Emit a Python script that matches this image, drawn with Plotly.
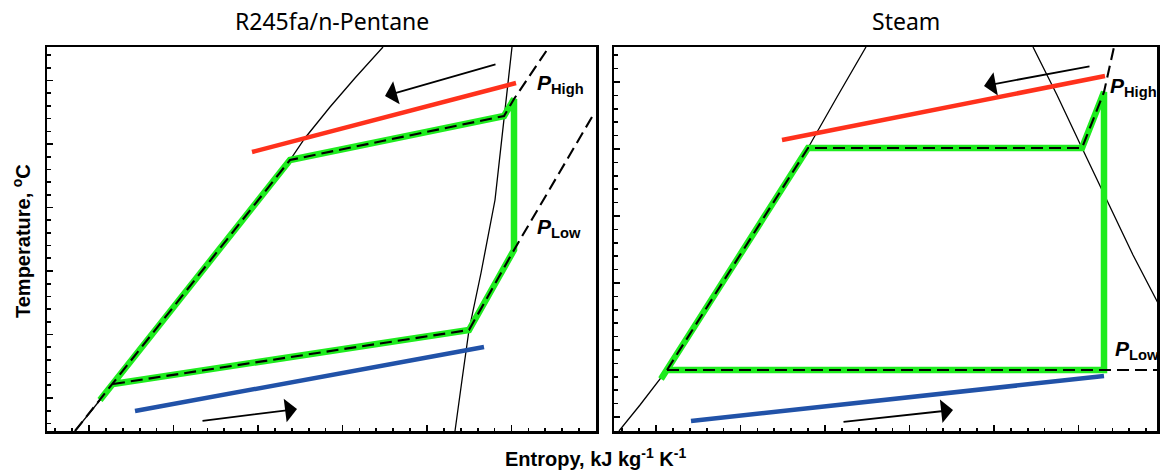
import plotly.graph_objects as go

# ---------------- data (entropy s, temperature T; arbitrary chart units) ----------------
# Left panel: R245fa/n-Pentane
orc_liq_s = [0.056, 0.132, 0.306, 0.486, 0.516, 0.566, 0.616, 0.672]
orc_liq_T = [0, 23.5, 78, 135.5, 146.5, 162, 176.5, 192]
orc_vap_s = [0.930, 0.914, 0.896, 0.868, 0.844, 0.830, 0.816]
orc_vap_T = [192, 157.5, 115.5, 79, 50.5, 25.5, 0]
orc_cycle_s = [0.106, 0.486, 0.914, 0.934, 0.934, 0.844, 0.132]
orc_cycle_T = [15.5, 135.5, 157.5, 166, 90.5, 50.5, 23.5]
orc_phigh_s = [0.056, 0.486, 0.914, 0.934, 1.004]
orc_phigh_T = [0, 135.5, 157.5, 166, 192]
orc_plow_s = [0.132, 0.844, 0.934, 1.09]
orc_plow_T = [23.5, 50.5, 90.5, 157]
orc_hot_s = [0.41, 0.938]
orc_hot_T = [139.5, 174]
orc_cold_s = [0.176, 0.874]
orc_cold_T = [10, 42]
orc_arrow_hot = [(0.9, 183.5), (0.676, 167.5)]     # (tail, head)
orc_arrow_cold = [(0.308, 5), (0.5, 11)]

# Right panel: Steam
stm_liq_s = [0.01, 0.052, 0.106, 0.246, 0.388, 0.446, 0.504]
stm_liq_T = [0, 13, 30.5, 85.5, 141.5, 167, 192]
stm_vap_s = [0.838, 0.886, 0.936, 0.988, 1.038, 1.088]
stm_vap_T = [192, 168, 141.5, 114, 88, 64]
stm_cycle_s = [0.094, 0.388, 0.936, 0.98, 0.98, 0.106]
stm_cycle_T = [26, 141.5, 141.5, 169.5, 30.5, 30.5]
stm_phigh_s = [0.106, 0.388, 0.936, 0.98, 1.0]
stm_phigh_T = [30.5, 141.5, 141.5, 169.5, 192]
stm_plow_s = [0.106, 1.086]
stm_plow_T = [30.5, 30.5]
stm_hot_s = [0.336, 0.982]
stm_hot_T = [145.5, 177.5]
stm_cold_s = [0.154, 0.98]
stm_cold_T = [5, 27.5]
stm_arrow_hot = [(0.954, 182.5), (0.74, 172.5)]
stm_arrow_cold = [(0.456, 4.5), (0.678, 10.5)]

panel_titles = ["R245fa/n-Pentane", "Steam"]
x_title = "Entropy, kJ kg<sup>-1</sup> K<sup>-1</sup>"
y_title = "Temperature, <sup>o</sup>C"

# ---------------- styles ----------------
GREEN = "#1eec1e"
RED = "#ff311c"
BLUE = "#2152a8"
W, H = 1160, 472
L_PX = (47, 596)
R_PX = (614, 1157)
TOP_PX, BOT_PX = 47, 431

fig = go.Figure()


def add_panel(xa, ya, liq, vap, cyc, ph, pl, hot, cold):
    kw = dict(xaxis=xa, yaxis=ya, mode="lines", showlegend=False, hoverinfo="skip")
    fig.add_trace(go.Scatter(x=liq[0], y=liq[1], line=dict(color="black", width=1.3), **kw))
    fig.add_trace(go.Scatter(x=vap[0], y=vap[1], line=dict(color="black", width=1.3), **kw))
    fig.add_trace(go.Scatter(x=hot[0], y=hot[1], line=dict(color=RED, width=4.5), **kw))
    fig.add_trace(go.Scatter(x=cold[0], y=cold[1], line=dict(color=BLUE, width=4.5), **kw))
    fig.add_trace(go.Scatter(x=cyc[0], y=cyc[1], line=dict(color=GREEN, width=6.5), **kw))
    fig.add_trace(go.Scatter(x=ph[0], y=ph[1], line=dict(color="black", width=2.1, dash="12px,6px"), **kw))
    fig.add_trace(go.Scatter(x=pl[0], y=pl[1], line=dict(color="black", width=2.1, dash="12px,6px"), **kw))


add_panel("x", "y", (orc_liq_s, orc_liq_T), (orc_vap_s, orc_vap_T), (orc_cycle_s, orc_cycle_T),
          (orc_phigh_s, orc_phigh_T), (orc_plow_s, orc_plow_T), (orc_hot_s, orc_hot_T),
          (orc_cold_s, orc_cold_T))
add_panel("x2", "y2", (stm_liq_s, stm_liq_T), (stm_vap_s, stm_vap_T), (stm_cycle_s, stm_cycle_T),
          (stm_phigh_s, stm_phigh_T), (stm_plow_s, stm_plow_T), (stm_hot_s, stm_hot_T),
          (stm_cold_s, stm_cold_T))

annotations = []


def arrow(xr, yr, tail, head):
    annotations.append(dict(xref=xr, yref=yr, axref=xr, ayref=yr, x=head[0], y=head[1],
                            ax=tail[0], ay=tail[1], showarrow=True, arrowhead=1,
                            arrowsize=2.2, arrowwidth=1.8, arrowcolor="black", text="",
                            standoff=0, startstandoff=0))


arrow("x", "y", *orc_arrow_hot)
arrow("x", "y", *orc_arrow_cold)
arrow("x2", "y2", *stm_arrow_hot)
arrow("x2", "y2", *stm_arrow_cold)

lab_font = dict(family="Liberation Sans, Arial", size=21, color="black")


def plabel(xr, yr, x, y, sub):
    annotations.append(dict(xref=xr, yref=yr, x=x, y=y, xanchor="left", yanchor="middle",
                            showarrow=False, font=lab_font,
                            text=f"<b><i>P</i></b><sub><b>{sub}</b></sub>"))


plabel("x", "y", 0.976, 173.5, "High")
plabel("x", "y", 0.976, 101.5, "Low")
plabel("x2", "y2", 0.988, 172, "High")
plabel("x2", "y2", 0.998, 40.5, "Low")

title_font = dict(family="Noto Sans", size=23, color="black")
annotations.append(dict(xref="paper", yref="paper", x=332 / W, y=1 - 21 / H, xanchor="center",
                        yanchor="middle", showarrow=False, text=panel_titles[0], font=title_font))
annotations.append(dict(xref="paper", yref="paper", x=906 / W, y=1 - 21 / H, xanchor="center",
                        yanchor="middle", showarrow=False, text=panel_titles[1], font=title_font))

axis_font = dict(family="Liberation Sans, Arial", size=20, color="black")
annotations.append(dict(xref="paper", yref="paper", x=595 / W, y=1 - 457 / H, xanchor="center",
                        yanchor="middle", showarrow=False, text=f"<b>{x_title}</b>", font=axis_font))
annotations.append(dict(xref="paper", yref="paper", x=21 / W, y=1 - 241 / H, xanchor="center",
                        yanchor="middle", showarrow=False, text=f"<b>{y_title}</b>", font=axis_font,
                        textangle=-90))


def xaxis(dom, rng):
    return dict(domain=[dom[0] / W, dom[1] / W], range=rng, showgrid=False, zeroline=False,
                showline=True, linecolor="black", linewidth=2.5, mirror=True,
                ticks="inside", ticklen=6, tickwidth=1.6, tickcolor="black",
                tick0=0.084, dtick=0.169, showticklabels=False,
                minor=dict(ticks="inside", ticklen=3.5, tickwidth=1.6, tickcolor="black",
                           tick0=0.084, dtick=0.0338))


def yaxis(anchor, t0, dt):
    return dict(domain=[1 - BOT_PX / H, 1 - TOP_PX / H], range=[0, 192], anchor=anchor,
                showgrid=False, zeroline=False, showline=True, linecolor="black",
                linewidth=2.5, mirror=True, ticks="inside", ticklen=6, tickwidth=1.6,
                tickcolor="black", tick0=t0, dtick=dt, showticklabels=False,
                minor=dict(ticks="inside", ticklen=3.5, tickwidth=1.6, tickcolor="black",
                           tick0=t0, dtick=dt / 5))


xa1 = xaxis(L_PX, [0, (L_PX[1] - L_PX[0]) / 500])
xa1["anchor"] = "y"
xa2 = xaxis(R_PX, [0, (R_PX[1] - R_PX[0]) / 500])
xa2["anchor"] = "y2"

fig.update_layout(
    width=W, height=H, margin=dict(l=0, r=0, t=0, b=0),
    paper_bgcolor="white", plot_bgcolor="white",
    xaxis=xa1, yaxis=yaxis("x", 16.5, 31.75),
    xaxis2=xa2, yaxis2=yaxis("x2", 7, 33.5),
    annotations=annotations,
)

fig.write_html("out.html", config={"displayModeBar": False, "staticPlot": True},
               post_script="document.body.style.margin='0';document.body.style.overflow='hidden';")
